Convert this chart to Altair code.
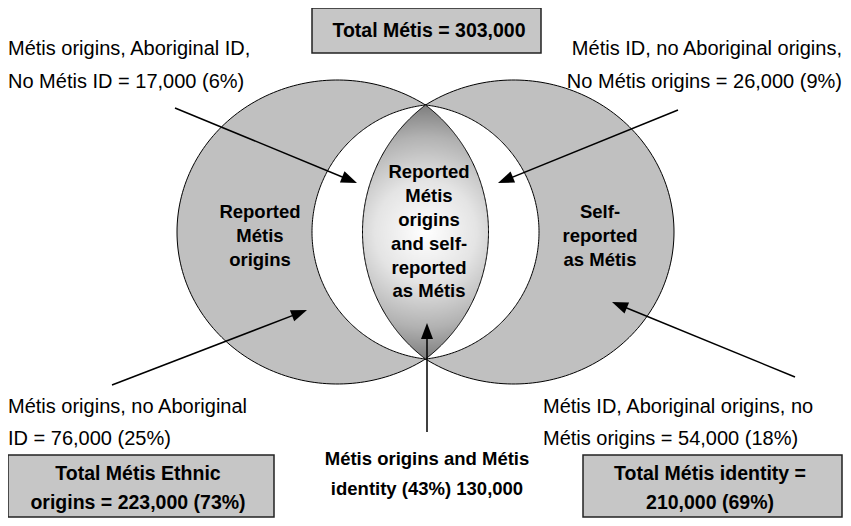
import numpy as np
import pandas as pd
import altair as alt

# ---------------- data ----------------
total_metis = 303000
origins_total, origins_pct = 223000, 73
identity_total, identity_pct = 210000, 69
both_count, both_pct = 130000, 43

region_line1 = ["Métis origins, Aboriginal ID,",
                "Métis ID, no Aboriginal origins,",
                "Métis origins, no Aboriginal",
                "Métis ID, Aboriginal origins, no"]
region_line2_prefix = ["No Métis ID", "No Métis origins", "ID", "Métis origins"]
region_counts = [17000, 26000, 76000, 54000]
region_pcts = [6, 9, 25, 18]

left_set_label = ["Reported", "Métis", "origins"]
right_set_label = ["Self-", "reported", "as Métis"]
overlap_label = ["Reported", "Métis", "origins", "and self-", "reported", "as Métis"]

# ---------------- layout (pixel space of the page) ----------------
X0, X1 = 8, 843
Y0, Y1 = 8, 518
W, H = X1 - X0, Y1 - Y0
xs = alt.Scale(domain=[X0, X1], nice=False, zero=False)
ys = alt.Scale(domain=[Y1, Y0], nice=False, zero=False)

CY = 232.0
MID = 425.5


def arc(cx, cy, rx, ry, xa, xb, n=120):
    ta = np.arccos(np.clip((xa - cx) / rx, -1, 1))
    tb = np.arccos(np.clip((xb - cx) / rx, -1, 1))
    t = np.linspace(ta, tb, n)
    return cx + rx * np.cos(t), cy - ry * np.sin(t), cy + ry * np.sin(t)


def shape_df(name, parts):
    x = np.concatenate([p[0] for p in parts])
    y = np.concatenate([p[1] for p in parts])
    y2 = np.concatenate([p[2] for p in parts])
    return pd.DataFrame({"shape": name, "x": x, "y": y, "y2": y2})


GA, GB = 160.4, 152.0
gl_cx, gr_cx = 337.4, 513.6
grey = pd.concat([
    shape_df("left", [arc(gl_cx, CY, GA, GB, gl_cx - GA, gl_cx + GA)]),
    shape_df("right", [arc(gr_cx, CY, GA, GB, gr_cx - GA, gr_cx + GA)]),
])
white = shape_df("white", [arc(439.8, CY, 127.8, 127.8, 312.0, MID),
                           arc(411.2, CY, 127.8, 127.8, MID, 539.0)])
lens = shape_df("lens", [arc(522.0, CY, 159.5, 159.5, 362.5, MID),
                         arc(329.0, CY, 159.5, 159.5, MID, 488.5)])


def area_layer(df, **mark):
    return alt.Chart(df).mark_area(**mark).encode(
        x=alt.X("x:Q", scale=xs, axis=None),
        y=alt.Y("y:Q", scale=ys, axis=None),
        y2="y2:Q",
        detail="shape:N",
    )


grey_layer = area_layer(grey, fill="#c0c0c0", stroke="black", strokeWidth=1, opacity=1)
white_layer = area_layer(white, fill="white", stroke="black", strokeWidth=1, opacity=1)
lens_layer = area_layer(
    lens,
    fill={"gradient": "radial",
          "stops": [{"offset": 0, "color": "#ffffff"},
                    {"offset": 0.4, "color": "#e4e4e4"},
                    {"offset": 0.75, "color": "#b2b2b2"},
                    {"offset": 1, "color": "#7e7e7e"}],
          "x1": 0.5, "y1": 0.5, "x2": 0.5, "y2": 0.5, "r1": 0, "r2": 0.5},
    stroke="black", strokeWidth=1, opacity=1)

# boxes
boxes = pd.DataFrame({
    "x": [312, 8, 583], "x2": [541, 274, 842],
    "y": [8, 455, 455], "y2": [53, 517, 517],
})
box_layer = alt.Chart(boxes).mark_rect(fill="#c6c6c6", stroke="#222222", strokeWidth=1.5).encode(
    x=alt.X("x:Q", scale=xs, axis=None), x2="x2:Q",
    y=alt.Y("y:Q", scale=ys, axis=None), y2="y2:Q",
)

# arrows (tail -> tip)
arrows = pd.DataFrame({
    "tx": [175, 678, 112, 795, 427],
    "ty": [108, 110, 385, 377, 432],
    "hx": [357, 498, 307, 612, 427],
    "hy": [183, 183, 310, 302, 323],
})
HEAD = 8.0
dx = arrows["hx"] - arrows["tx"]
dy = arrows["hy"] - arrows["ty"]
L = np.sqrt(dx ** 2 + dy ** 2)
arrows["cx"] = arrows["hx"] - HEAD * dx / L
arrows["cy"] = arrows["hy"] - HEAD * dy / L
arrows["ang"] = (np.degrees(np.arctan2(dx, -dy)) + 360) % 360

rule_layer = alt.Chart(arrows).mark_rule(color="black", strokeWidth=1.5).encode(
    x=alt.X("tx:Q", scale=xs, axis=None), x2="cx:Q",
    y=alt.Y("ty:Q", scale=ys, axis=None), y2="cy:Q",
)
head_layer = alt.Chart(arrows).mark_point(
    shape="M0,-1L0.75,1L-0.75,1Z", filled=True, color="black", opacity=1,
    size=(2 * HEAD) ** 2, strokeWidth=0,
).encode(
    x=alt.X("cx:Q", scale=xs, axis=None),
    y=alt.Y("cy:Q", scale=ys, axis=None),
    angle=alt.Angle("ang:Q", scale=None),
)

# texts
line2 = [f"{p} = {c:,} ({q}%)" for p, c, q in zip(region_line2_prefix, region_counts, region_pcts)]
txt_left = pd.DataFrame({
    "x": [8, 8, 8, 8, 543, 543],
    "y": [55, 88, 413, 445, 413, 445],
    "t": [region_line1[0], line2[0], region_line1[2], line2[2], region_line1[3], line2[3]],
})
txt_right = pd.DataFrame({"x": [842, 842], "y": [55, 88], "t": [region_line1[1], line2[1]]})

bold_small = pd.DataFrame({
    "x": [429] * 6 + [260] * 3 + [600] * 3,
    "y": [178, 202, 226, 250, 274, 297, 218, 242, 266, 218, 242, 266],
    "t": overlap_label + left_set_label + right_set_label,
})
bold_mid = pd.DataFrame({
    "x": [427, 427],
    "y": [465, 495],
    "t": ["Métis origins and Métis", f"identity ({both_pct}%) {both_count:,}"],
})
bold_box = pd.DataFrame({
    "x": [429, 138, 138, 710, 710],
    "y": [37, 480, 509, 480, 509],
    "t": [f"Total Métis = {total_metis:,}",
          "Total Métis Ethnic", f"origins = {origins_total:,} ({origins_pct}%)",
          "Total Métis identity  =", f"{identity_total:,} ({identity_pct}%)"],
})


def text_layer(df, **mark):
    return alt.Chart(df).mark_text(baseline="alphabetic", color="black", **mark).encode(
        x=alt.X("x:Q", scale=xs, axis=None),
        y=alt.Y("y:Q", scale=ys, axis=None),
        text="t:N",
    )


REG = "Liberation Sans, Arial, sans-serif"
t1 = text_layer(txt_left, align="left", font=REG, fontSize=20)
t2 = text_layer(txt_right, align="right", font=REG, fontSize=20)
t3 = text_layer(bold_small, align="center", font=REG, fontSize=18.5, fontWeight="bold")
t4 = text_layer(bold_mid, align="center", font=REG, fontSize=18.5, fontWeight="bold")
t5 = text_layer(bold_box, align="center", font=REG, fontSize=19.5, fontWeight="bold")

chart = alt.layer(
    grey_layer, white_layer, lens_layer, box_layer, rule_layer, head_layer, t1, t2, t3, t4, t5
).properties(
    width=W, height=H, autosize=alt.AutoSizeParams(type="none"), padding=0, background="white"
).configure_view(stroke=None)

chart.save("out.html", embed_options={"renderer": "svg", "actions": False})
